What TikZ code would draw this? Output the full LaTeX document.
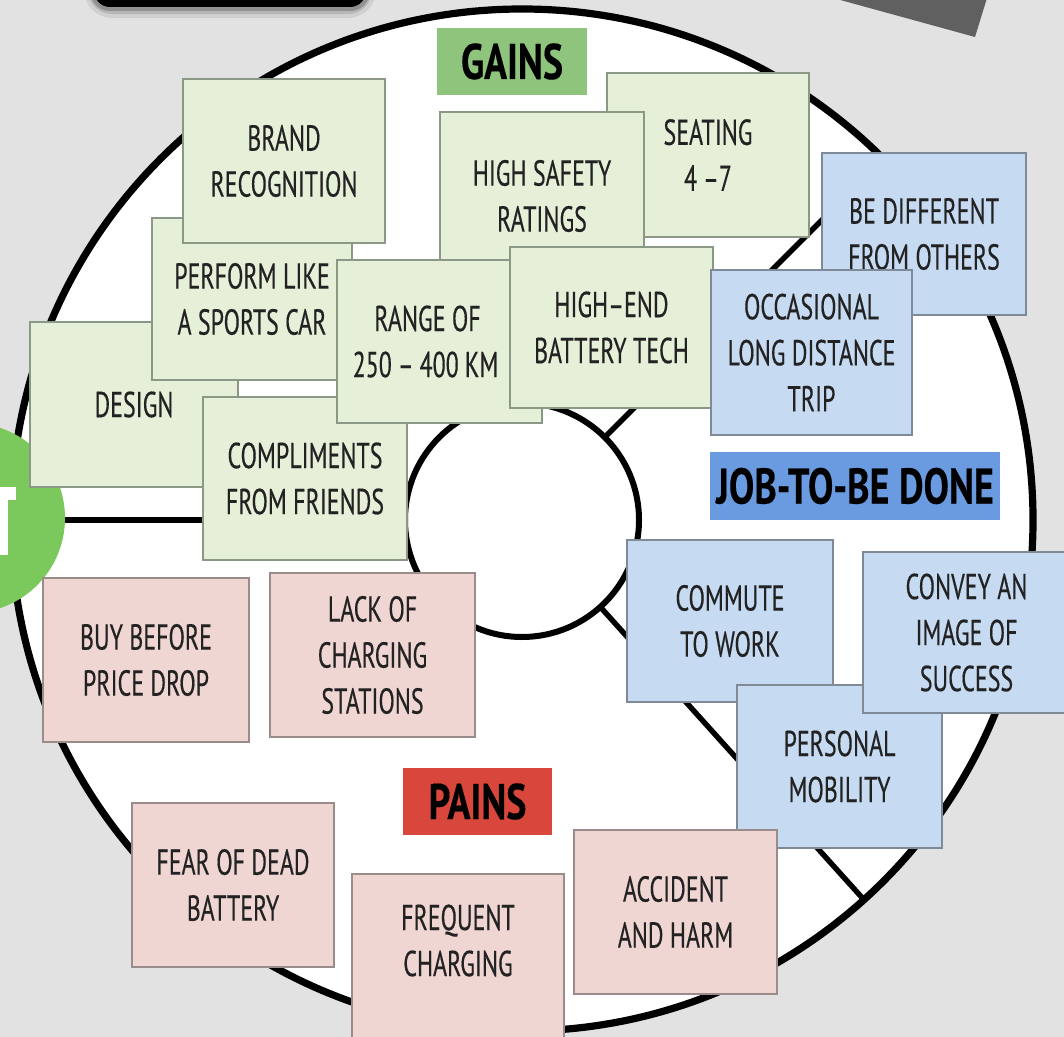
\documentclass[tikz,border=0pt]{standalone}
\usepackage{fontspec}
\usetikzlibrary{calc}
\setmainfont[FakeStretch=0.665,FakeBold=0.35]{PT Sans}
\newfontfamily\labfam[FakeStretch=0.76,FakeBold=0.3]{PT Sans}
\definecolor{bgc}{HTML}{E2E2E2}
\definecolor{gfill}{HTML}{E6F0D9}
\definecolor{gline}{HTML}{8C9886}
\definecolor{bfill}{HTML}{C6DAF2}
\definecolor{bline}{HTML}{7F8A98}
\definecolor{pfill}{HTML}{F0D6D3}
\definecolor{pline}{HTML}{9A8C8A}
\definecolor{gainc}{HTML}{8FC47D}
\definecolor{jobc}{HTML}{6A9BE0}
\definecolor{painc}{HTML}{D9463B}
\definecolor{greenc}{HTML}{7BC95C}
\definecolor{textc}{HTML}{222222}
\definecolor{darkg}{HTML}{606060}
\newcommand\boxfont{\fontsize{18}{23}\selectfont}
\newcommand\labfont{\labfam\bfseries\fontsize{25}{28}\selectfont}
\newcommand\mybox[7]{\node[#6, minimum width={(#4-#2)*0.5pt}, minimum height={(#5-#3)*0.5pt}] (#1) at ({(#2+#4)/2},{(#3+#5)/2}) {#7};}
\begin{document}
\begin{tikzpicture}[x=0.5pt,y=-0.5pt,
  box/.style={draw, line width=0.7pt, inner sep=0pt, outer sep=0pt, align=center, font=\boxfont, text=textc},
  gbox/.style={box, fill=gfill, draw=gline},
  bbox/.style={box, fill=bfill, draw=bline},
  pbox/.style={box, fill=pfill, draw=pline},
  txt/.style={inner sep=0pt, align=center, font=\boxfont, text=textc},
  lab/.style={inner sep=0pt, outer sep=0pt, align=center, font=\labfont, text=black},
  divider/.style={line width=2.7pt, black}]
\useasboundingbox (0,0) rectangle (1064,1037);
\fill[bgc] (0,0) rectangle (1064,1037);
% top shapes
\fill[black, opacity=0.08, rounded corners=14] (84,-30) rectangle (376,18);
\fill[black, opacity=0.12, rounded corners=12] (88,-30) rectangle (372,14);
\fill[black, opacity=0.2, rounded corners=10] (90,-30) rectangle (370,11);
\fill[black, rounded corners=8] (94,-30) rectangle (366,7);
\fill[darkg] (833,-2) -- (975,37) -- (987,-2) -- cycle;
% wheel
\coordinate (c) at (522,520);
\fill[white] (c) circle (511);
\draw[line width=3.6pt] (c) circle (511);
\draw[line width=3pt] (c) circle (117);
\draw[divider] ($(c)+(180:117)$) -- ($(c)+(180:511)$);
\draw[divider] ($(c)+(-45:117)$) -- ($(c)+(-45:511)$);
\draw[divider] ($(c)+(48:117)$) -- ($(c)+(48:511)$);
% green disc at left
\fill[greenc] (-30,518) circle (95);
\fill[white] (0,487) rectangle (16,500);
\fill[white] (0,487) rectangle (8,555);
% gains
\mybox{design}{30}{322}{238}{487}{gbox}{DESIGN}
\mybox{perform}{152}{218}{352}{380}{gbox}{PERFORM LIKE\\A SPORTS CAR}
\mybox{brand}{183}{79}{385}{243}{gbox}{BRAND\\RECOGNITION}
\mybox{compl}{203}{397}{407}{560}{gbox}{COMPLIMENTS\\FROM FRIENDS}
\mybox{seating}{607}{73}{809}{237}{gbox}{SEATING\\4\,–7}
\mybox{safety}{440}{112}{644}{280}{gbox}{HIGH SAFETY\\RATINGS}
\mybox{range}{337}{260}{542}{423}{gbox}{RANGE OF\hspace*{12pt}\\250\,–\,400\,KM\hspace*{14pt}}
\mybox{highend}{510}{247}{713}{408}{gbox}{HIGH–END\\BATTERY TECH}
\mybox{gains}{437}{28}{587}{95}{lab, fill=gainc}{GAINS}
% jobs
\mybox{bediff}{822}{153}{1026}{315}{bbox}{BE DIFFERENT\\FROM OTHERS}
\mybox{occas}{711}{270}{912}{435}{bbox}{OCCASIONAL\\LONG DISTANCE\\TRIP}
\mybox{job}{710}{452}{1000}{520}{lab, fill=jobc}{JOB-TO-BE DONE}
\mybox{commute}{627}{540}{833}{702}{bbox}{COMMUTE\\TO WORK}
\mybox{personal}{737}{685}{942}{848}{bbox}{PERSONAL\\MOBILITY}
\mybox{convey}{863}{552}{1070}{713}{bbox}{CONVEY AN\\IMAGE OF\\SUCCESS}
% pains
\mybox{buy}{43}{578}{249}{742}{pbox}{BUY BEFORE\\PRICE DROP}
\mybox{lack}{270}{573}{475}{737}{pbox}{LACK OF\\CHARGING\\STATIONS}
\mybox{pains}{403}{768}{552}{835}{lab, fill=painc}{PAINS}
\mybox{fear}{132}{803}{334}{967}{pbox}{FEAR OF DEAD\\BATTERY}
\mybox{frequent}{352}{874}{564}{1045}{pbox}{}
\node[txt] (frequenttext) at ($(frequent.center)+(0,-19)$) {FREQUENT\\CHARGING};
\mybox{accident}{574}{830}{777}{994}{pbox}{ACCIDENT\\AND HARM}
\end{tikzpicture}
\end{document}
